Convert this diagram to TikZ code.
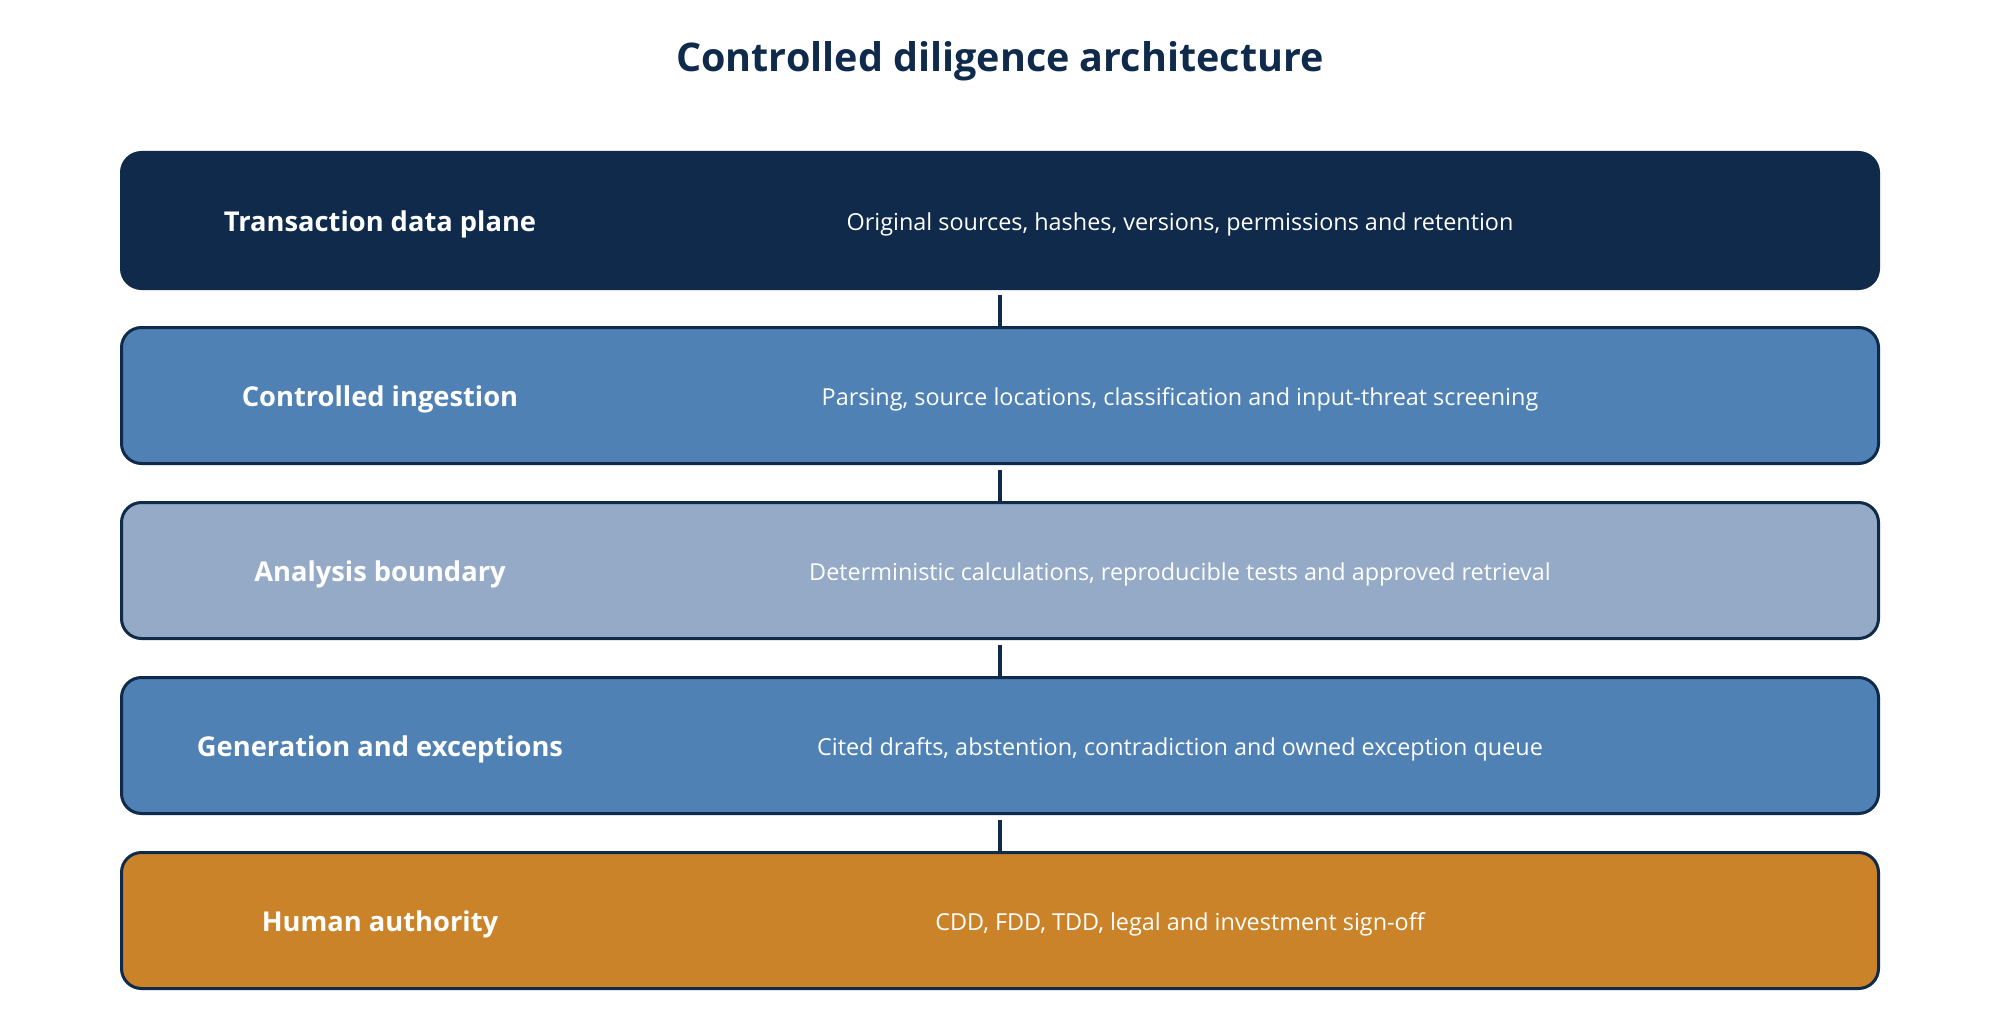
\documentclass[tikz,border=0pt]{standalone}
\usepackage{fontspec}
\setmainfont{Open Sans}
\usetikzlibrary{backgrounds}
\definecolor{navy}{HTML}{0F2A4A}
\definecolor{midblue}{HTML}{4F81B5}
\definecolor{paleblue}{HTML}{94AAC7}
\definecolor{ochre}{HTML}{CB8329}
\tikzset{
  layerbox/.style={draw=navy, line width=3pt, rounded corners=20pt,
    minimum width=1757pt, minimum height=136pt, inner sep=0pt},
  layername/.style={text=white, font=\fontsize{27.3}{32}\selectfont\bfseries, inner sep=0pt, anchor=base},
  layerdesc/.style={text=white, font=\fontsize{23.4}{28}\selectfont, inner sep=0pt, anchor=base},
  flowline/.style={draw=navy, line width=4.5pt, shorten <=5pt}
}
\begin{document}
\begin{tikzpicture}[x=1pt,y=-1pt]
\useasboundingbox (0,0) rectangle (2000,1030);
\node[text=navy, font=\fontsize{39.5}{46}\selectfont\bfseries, inner sep=0pt, anchor=base] (title) at (1000,72) {Controlled diligence architecture};
\node[layerbox, fill=navy] (b1) at (1000,220.5) {};
\node[layerbox, fill=midblue] (b2) at (1000,395.5) {};
\node[layerbox, fill=paleblue] (b3) at (1000,570.5) {};
\node[layerbox, fill=midblue] (b4) at (1000,745.5) {};
\node[layerbox, fill=ochre] (b5) at (1000,920.5) {};
\node[layername] (n1) at (380,231.5) {Transaction data plane};
\node[layerdesc] (d1) at (1180,230) {Original sources, hashes, versions, permissions and retention};
\node[layername] (n2) at (380,406.5) {Controlled ingestion};
\node[layerdesc] (d2) at (1180,405) {Parsing, source locations, classification and input-threat screening};
\node[layername] (n3) at (380,581.5) {Analysis boundary};
\node[layerdesc] (d3) at (1180,580) {Deterministic calculations, reproducible tests and approved retrieval};
\node[layername] (n4) at (380,756.5) {Generation and exceptions};
\node[layerdesc] (d4) at (1180,755) {Cited drafts, abstention, contradiction and owned exception queue};
\node[layername] (n5) at (380,931.5) {Human authority};
\node[layerdesc] (d5) at (1180,930) {CDD, FDD, TDD, legal and investment sign-off};
\begin{scope}[on background layer]
\draw[flowline] (b1.south) -- (b2.north);
\draw[flowline] (b2.south) -- (b3.north);
\draw[flowline] (b3.south) -- (b4.north);
\draw[flowline] (b4.south) -- (b5.north);
\end{scope}
\end{tikzpicture}
\end{document}
